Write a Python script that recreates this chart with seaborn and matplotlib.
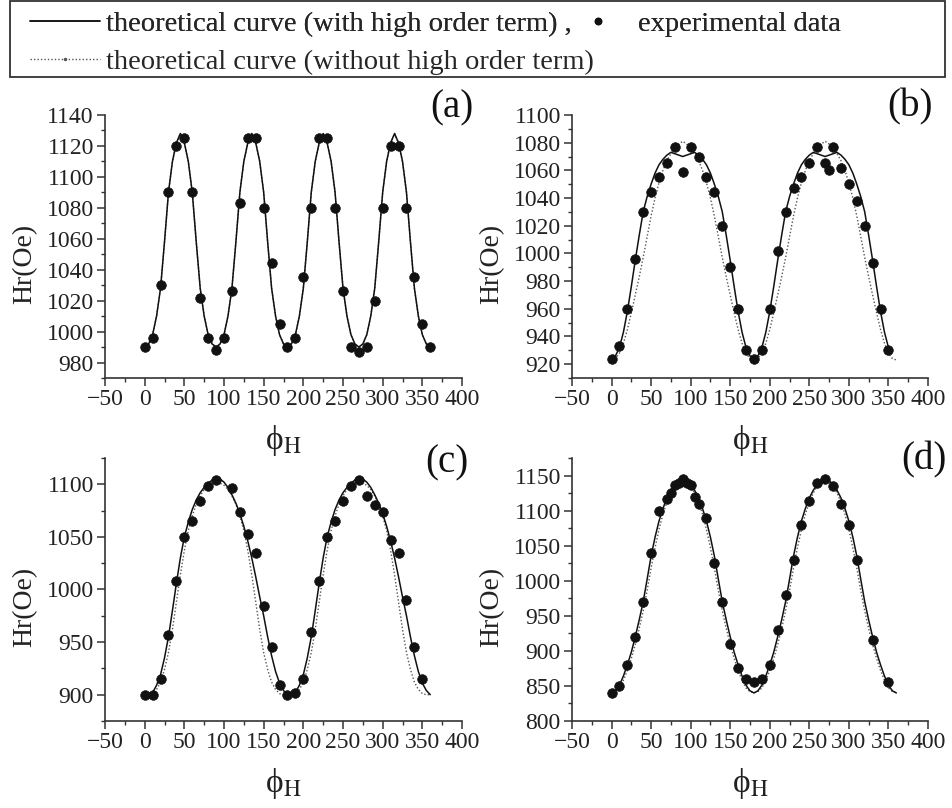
import numpy as np
import pandas as pd
import matplotlib.pyplot as plt
import seaborn as sns
from matplotlib.lines import Line2D
from matplotlib.patches import Rectangle
from matplotlib.ticker import MultipleLocator

# curve grid (degrees)
phi_curve = list(range(0, 365, 5))

# (a) theoretical curves (both curves coincide)
a_with = [990, 992, 998, 1010, 1028, 1058, 1090, 1110, 1122, 1128, 1122, 1110, 1090, 1058, 1028, 1010, 998, 992, 990,
          992, 998, 1010, 1028, 1058, 1090, 1110, 1122, 1128, 1122, 1110, 1090, 1058, 1028, 1010, 998, 992, 990,
          992, 998, 1010, 1028, 1058, 1090, 1110, 1122, 1128, 1122, 1110, 1090, 1058, 1028, 1010, 998, 992, 990,
          992, 998, 1010, 1028, 1058, 1090, 1110, 1122, 1128, 1122, 1110, 1090, 1058, 1028, 1010, 998, 992, 990]
a_without = a_with

# (b) theoretical curves
b_with = [923, 926, 932, 943, 958, 976, 995, 1013, 1030, 1041, 1050, 1058, 1064, 1068, 1071, 1073, 1072, 1071, 1070,
          1071, 1072, 1073, 1071, 1068, 1064, 1058, 1050, 1041, 1030, 1013, 995, 976, 958, 943, 932, 926, 923,
          926, 932, 943, 958, 976, 995, 1013, 1030, 1041, 1050, 1058, 1064, 1068, 1071, 1073, 1072, 1071, 1070,
          1071, 1072, 1073, 1071, 1068, 1064, 1058, 1050, 1041, 1030, 1013, 995, 976, 958, 943, 932]
b_without = [923, 924, 928, 935, 945, 957, 970, 983, 997, 1012, 1027, 1040, 1051, 1060, 1067, 1072, 1076, 1079, 1081,
             1079, 1076, 1072, 1067, 1060, 1051, 1040, 1027, 1012, 997, 983, 970, 957, 945, 935, 928, 924, 923,
             924, 928, 935, 945, 957, 970, 983, 997, 1012, 1027, 1040, 1051, 1060, 1067, 1072, 1076, 1079, 1081,
             1079, 1076, 1072, 1067, 1060, 1051, 1040, 1027, 1012, 997, 983, 970, 957, 945, 935, 928, 924, 923]

# (c) theoretical curves
c_with = [900, 900, 902, 909, 919, 935, 955, 980, 1006, 1030, 1050, 1064, 1076, 1085, 1092, 1097, 1101, 1104, 1105,
          1105, 1102, 1097, 1090, 1082, 1072, 1060, 1046, 1030, 1012, 993, 975, 955, 937, 922, 911, 904, 900,
          900, 902, 909, 919, 935, 955, 980, 1006, 1030, 1050, 1064, 1076, 1085, 1092, 1097, 1101, 1104, 1105,
          1105, 1102, 1097, 1090, 1082, 1072, 1060, 1046, 1030, 1012, 993, 975, 955, 937, 922, 911, 904, 900]
c_without = [900, 900, 901, 905, 912, 924, 940, 962, 988, 1014, 1037, 1056, 1070, 1081, 1089, 1095, 1099, 1101, 1102,
             1101, 1099, 1095, 1089, 1081, 1070, 1056, 1037, 1014, 988, 962, 940, 924, 912, 905, 901, 900, 900,
             900, 901, 905, 912, 924, 940, 962, 988, 1014, 1037, 1056, 1070, 1081, 1089, 1095, 1099, 1101, 1102,
             1101, 1099, 1095, 1089, 1081, 1070, 1056, 1037, 1014, 988, 962, 940, 924, 912, 905, 901, 900, 900]

# (d) theoretical curves
d_with = [840, 843, 851, 864, 880, 898, 920, 944, 970, 1002, 1035, 1062, 1085, 1103, 1118, 1129, 1137, 1143, 1145,
          1143, 1137, 1129, 1118, 1103, 1085, 1062, 1035, 1002, 970, 944, 920, 898, 880, 864, 851, 843, 840,
          843, 851, 864, 880, 898, 920, 944, 970, 1002, 1035, 1062, 1085, 1103, 1118, 1129, 1137, 1143, 1145,
          1143, 1137, 1129, 1118, 1103, 1085, 1062, 1035, 1002, 970, 944, 920, 898, 880, 864, 851, 843, 840]
d_without = [840, 842, 847, 858, 872, 889, 909, 932, 957, 986, 1018, 1047, 1073, 1095, 1112, 1125, 1135, 1142, 1145,
             1142, 1135, 1125, 1112, 1095, 1073, 1047, 1018, 986, 957, 932, 909, 889, 872, 858, 847, 842, 840,
             842, 847, 858, 872, 889, 909, 932, 957, 986, 1018, 1047, 1073, 1095, 1112, 1125, 1135, 1142, 1145,
             1142, 1135, 1125, 1112, 1095, 1073, 1047, 1018, 986, 957, 932, 909, 889, 872, 858, 847, 842, 840]

# experimental data
a_phi = list(range(0, 370, 10))
a_hr = [990, 996, 1030, 1090, 1120, 1125, 1090, 1022, 996, 988, 996, 1026, 1083, 1125, 1125, 1080, 1044, 1005, 990,
        996, 1035, 1080, 1125, 1125, 1080, 1026, 990, 987, 990, 1020, 1080, 1120, 1120, 1080, 1035, 1005, 990]

b_phi = list(range(0, 270, 10)) + [270, 275, 280] + list(range(290, 360, 10))
b_hr = [924, 933, 960, 996, 1030, 1044, 1055, 1065, 1077, 1059, 1077, 1070, 1055, 1044, 1020, 990, 960, 930, 924,
        930, 960, 1002, 1030, 1047, 1055, 1065, 1077, 1065, 1060, 1077, 1062, 1050, 1038, 1020, 993, 960, 930]

c_phi = list(range(0, 100, 10)) + list(range(110, 360, 10))
c_hr = [900, 900, 915, 957, 1008, 1050, 1065, 1084, 1098, 1104, 1096, 1074, 1053, 1035, 984, 945, 909, 900,
        902, 915, 960, 1008, 1050, 1065, 1084, 1098, 1104, 1089, 1080, 1074, 1047, 1035, 990, 945, 915]

d_phi = [0, 10, 20, 30, 40, 50, 60, 70, 75, 80, 85, 90, 95, 100, 105, 110] + list(range(120, 320, 10)) + [330, 350]
d_hr = [840, 850, 880, 920, 970, 1040, 1100, 1116, 1125, 1136, 1140, 1145, 1140, 1136, 1120, 1110, 1090, 1025,
        970, 910, 876, 860, 855, 860, 880, 930, 980, 1030, 1080, 1113, 1140, 1145, 1135, 1110, 1080, 1030, 915, 855]

sns.set_style("ticks")
plt.rcParams['font.family'] = ['Liberation Serif', 'DejaVu Serif']
plt.rcParams['mathtext.fontset'] = 'stix'
plt.rcParams['axes.linewidth'] = 1.2
plt.rcParams['axes.edgecolor'] = '#333333'

fig = plt.figure(figsize=(9.52, 8.08), dpi=100)

panels = [
    ('(a)', [0.1103, 0.5322, 0.375, 0.3255], a_with, a_without, a_phi, a_hr, (970, 1140), 20, (0.972, 1.027), 360),
    ('(b)', [0.6008, 0.5322, 0.374, 0.3255], b_with, b_without, b_phi, b_hr, (910, 1100), 20, (0.949, 1.03), 350),
    ('(c)', [0.1103, 0.1077, 0.375, 0.3255], c_with, c_without, c_phi, c_hr, (875, 1125), 50, (0.958, 0.981), 360),
    ('(d)', [0.6008, 0.1077, 0.374, 0.3255], d_with, d_without, d_phi, d_hr, (800, 1175), 50, (0.989, 0.992), 360),
]

for name, rect, y_with, y_without, px, py, ylim, ystep, lab_pos, end_with in panels:
    ax = fig.add_axes(rect)
    x_with = [p for p in phi_curve if p <= end_with]
    sns.lineplot(x=phi_curve, y=y_without, ax=ax, color='#555555', lw=1.0, linestyle=(0, (1, 1.5)))
    sns.lineplot(x=x_with, y=y_with, ax=ax, color='#111111', lw=1.1)
    sns.scatterplot(x=px, y=py, ax=ax, color='#111111', s=48, edgecolor='#111111', linewidth=0.5, zorder=5)
    ax.set_xlim(-50, 400)
    ax.set_ylim(*ylim)
    ax.xaxis.set_major_locator(MultipleLocator(50))
    ax.xaxis.set_minor_locator(MultipleLocator(25))
    ax.yaxis.set_major_locator(MultipleLocator(ystep))
    ax.yaxis.set_minor_locator(MultipleLocator(ystep / 2))
    ax.tick_params(which='major', direction='out', length=6, width=1.1, labelsize=17, pad=2, colors='#333333',
                   labelcolor='#222222')
    ax.tick_params(which='minor', direction='out', length=3, width=1.0, colors='#333333')
    sns.despine(ax=ax)
    ax.set_ylabel('Hr(Oe)', fontsize=20, color='#222222')
    ax.yaxis.set_label_coords(-0.19, 0.433)
    ax.set_xlabel(r'ϕ$_{\mathrm{H}}$', fontsize=24, color='#222222')
    ax.xaxis.set_label_coords(0.5, -0.17)
    ax.text(lab_pos[0], lab_pos[1], name, transform=ax.transAxes, fontsize=28, ha='center', va='center',
            color='#111111')

# legend
h_with = Line2D([], [], color='#111111', lw=1.1)
h_dot = Line2D([], [], color='#111111', marker='o', ms=4.5, linestyle='none')
h_without = Line2D([], [], color='#555555', lw=1.0, linestyle=(0, (1, 1.5)), marker='.', ms=3)
leg1 = fig.legend([h_with, h_dot], ['theoretical curve (with high order term) ,', 'experimental data'],
                  loc='upper left', bbox_to_anchor=(0.02, 1.0), ncol=2, frameon=False, fontsize=20.5,
                  handlelength=2.45, handletextpad=0.2, columnspacing=-0.3, borderaxespad=0.0)
leg2 = fig.legend([h_without], ['theoretical curve (without high order term)'], numpoints=1,
                  loc='upper left', bbox_to_anchor=(0.02, 0.953), frameon=False, fontsize=20.5,
                  handlelength=2.45, handletextpad=0.2, borderaxespad=0.0)
fig.add_artist(leg1)
fig.patches.append(Rectangle((0.011, 0.905), 0.982, 0.094, transform=fig.transFigure, fill=False,
                             edgecolor='#333333', lw=1.3))

fig.savefig('out.png', dpi=100)
